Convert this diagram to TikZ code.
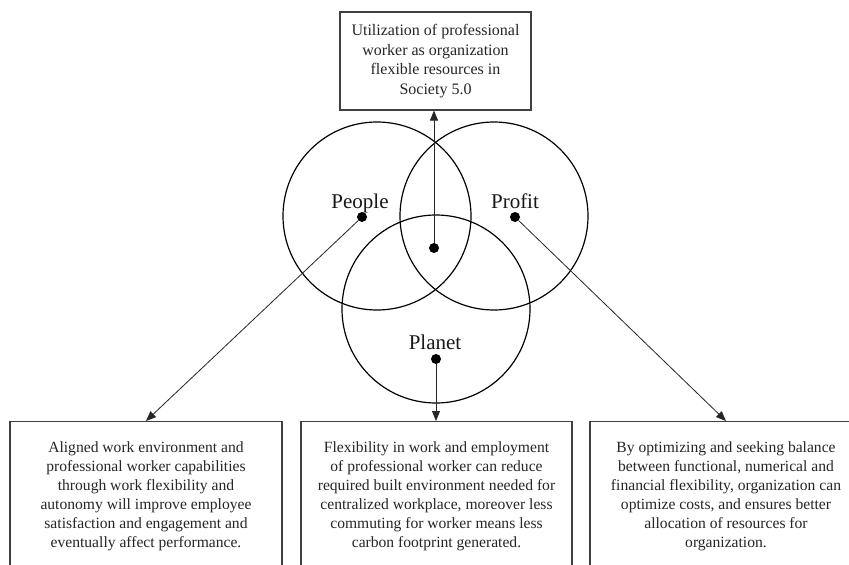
\documentclass[tikz,border=0pt]{standalone}
\usepackage{fontspec}
\setmainfont{Liberation Serif}
\usetikzlibrary{arrows.meta}
\tikzset{
  ring/.style={draw=black, line width=1.2pt, circle, inner sep=0pt, minimum size=188pt},
  dotmark/.style={fill=black, circle, inner sep=0pt, minimum size=10pt},
  tbox/.style={draw=black!75, line width=1.1pt, fill=white, align=center, text=black!85,
    inner sep=0pt, font=\fontsize{15.6}{19}\selectfont},
  lbl/.style={font=\fontsize{21}{24}\selectfont, text=black!90, anchor=base, inner sep=0pt},
  arr/.style={draw=black!85, line width=0.8pt, -{Triangle[length=10pt,width=8pt]}}
}
\begin{document}
\begin{tikzpicture}[x=1pt,y=-1pt]
\useasboundingbox (0,0) rectangle (849,565);
\clip (0,0) rectangle (849,565);
\fill[white] (0,0) rectangle (849,565);
% circles
\node[ring] (cpeople) at (377,216) {};
\node[ring] (cprofit) at (494,216) {};
\node[ring] (cplanet) at (436,309) {};
% labels
\node[lbl] (tpeople) at (360,208) {People};
\node[lbl] (tprofit) at (515,208) {Profit};
\node[lbl] (tplanet) at (435,349) {Planet};
% dots
\node[dotmark] (dpeople) at (362,217) {};
\node[dotmark] (dprofit) at (515,217) {};
\node[dotmark] (dcenter) at (434,248) {};
\node[dotmark] (dplanet) at (436,359) {};
% top box
\node[tbox, font=\fontsize{16}{19.6}\selectfont, minimum width=191pt, minimum height=98pt] (top) at (435.5,61)
  {Utilization of professional\\worker as organization\\flexible resources in\\Society 5.0};
% bottom boxes
\node[tbox, minimum width=272pt, minimum height=150pt, anchor=north] (left) at (146,421)
  {Aligned work environment and\\professional worker capabilities\\through work flexibility and\\autonomy will improve employee\\satisfaction and engagement and\\eventually affect performance.};
\node[tbox, minimum width=271pt, minimum height=150pt, anchor=north] (mid) at (436.5,421)
  {Flexibility in work and employment\\of professional worker can reduce\\required built environment needed for\\centralized workplace, moreover less\\commuting for worker means less\\carbon footprint generated.};
\node[tbox, minimum width=272pt, minimum height=150pt, anchor=north] (right) at (726,421)
  {By optimizing and seeking balance\\between functional, numerical and\\financial flexibility, organization can\\optimize costs, and ensures better\\allocation of resources for\\organization.};
% arrows
\draw[arr] (dcenter) -- (dcenter |- top.south);
\draw[arr] (dpeople) -- (left.north);
\draw[arr] (dplanet) -- (dplanet |- mid.north);
\draw[arr] (dprofit) -- (right.north);
\end{tikzpicture}
\end{document}
